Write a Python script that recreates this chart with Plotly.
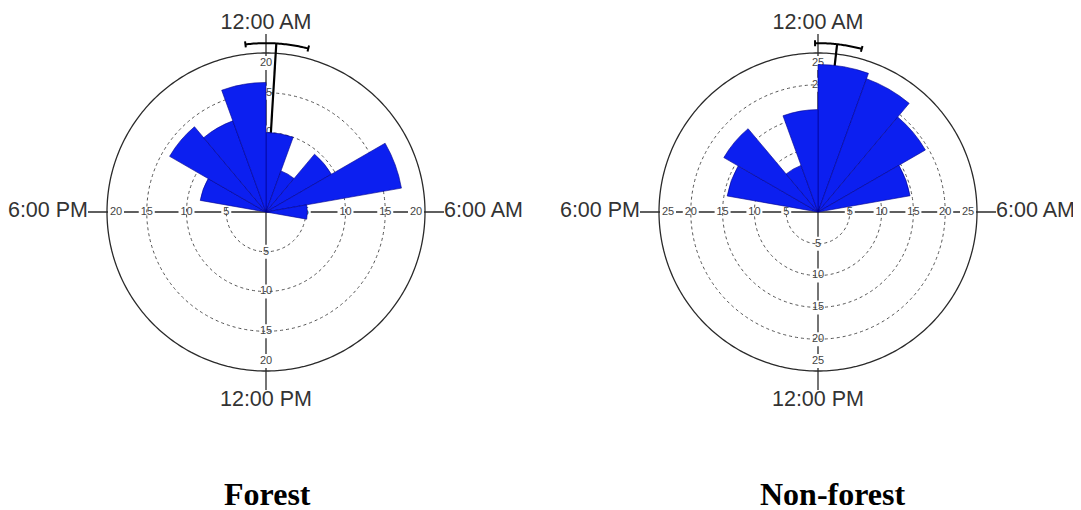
import numpy as np
import plotly.graph_objects as go

# ---------------- data ----------------
bin_width = 20  # degrees per bin (clock: 0 deg = 12:00 AM, clockwise)
forest_theta = [10, 30, 50, 70, 90, 290, 310, 330, 350]
forest_values = [10.0, 5.5, 9.5, 17.3, 5.2, 8.4, 14.0, 12.2, 16.3]
nonforest_theta = [10, 30, 50, 70, 290, 310, 330, 350]
nonforest_values = [23.2, 22.3, 19.5, 14.7, 14.5, 17.1, 7.8, 16.1]

forest_mean = 3.5
forest_ci = [-7.0, 14.5]
nonforest_mean = 6.5
nonforest_ci = [-1.0, 15.0]

forest_ticks = [5, 10, 15, 20]
nonforest_ticks = [5, 10, 15, 20, 25]

hour_angles = [0, 90, 180, 270]
hour_labels = ["12:00 AM", "6:00 AM", "12:00 PM", "6:00 PM"]
hour_textpos = ["top center", "middle right", "bottom center", "middle left"]
panel_titles = ["Forest", "Non-forest"]

# ---------------- layout geometry (figure px) ----------------
W, H = 1081, 510
OFF = 8            # page body margin
R = 159            # radius of the outer circle in px
R_EXT = 200        # radius of the whole polar area in px
centers = [(266 - OFF, 212 - OFF), (818 - OFF, 212 - OFF)]
title_x = [267 - OFF, 833 - OFF]
title_y = 494 - OFF
BAR_COLOR = "#0c1ff0"
LABEL_FONT = "Liberation Sans, Arial, sans-serif"
INK = "#2a2a2a"


def domain(cx, cy):
    return dict(x=[(cx - R_EXT) / W, (cx + R_EXT) / W],
                y=[(H - cy - R_EXT) / H, (H - cy + R_EXT) / H])


fig = go.Figure()


def add_panel(idx, theta, values, ticks, mean, ci):
    under = "polar" if idx == 0 else f"polar{2 * idx + 1}"
    over = f"polar{2 * idx + 2}"
    outer = ticks[-1]
    scale = R / outer            # px per unit
    rmax = R_EXT / scale         # radial range maximum

    # outer circle
    circ_t = list(np.linspace(0, 360, 361))
    fig.add_trace(go.Scatterpolar(r=[outer] * len(circ_t), theta=circ_t, mode="lines",
                                  subplot=under, line=dict(color=INK, width=1.3),
                                  hoverinfo="skip", showlegend=False))

    # cross axis lines, broken at the tick labels
    for ang in hour_angles:
        vertical = ang in (0, 180)
        inset = (10.0 if vertical else 9.0) / scale
        lab_r = [float(t) for t in ticks[:-1]] + [outer - inset]
        rr, tt = [], []
        start = 0.0
        for t, rl in zip(ticks, lab_r):
            gap = (7.0 if vertical else (5.0 if t < 10 else 8.0)) / scale
            rr += [start, rl - gap, None]
            tt += [ang, ang, None]
            start = rl + gap
        if start < outer:
            rr += [start, outer, None]
            tt += [ang, ang, None]
        # hour tick outside the circle
        rr += [outer, outer + 19.0 / scale]
        tt += [ang, ang]
        fig.add_trace(go.Scatterpolar(r=rr, theta=tt, mode="lines", subplot=under,
                                      line=dict(color=INK, width=1.3),
                                      hoverinfo="skip", showlegend=False))
        fig.add_trace(go.Scatterpolar(r=lab_r, theta=[ang] * len(ticks), mode="text",
                                      text=[str(t) for t in ticks], subplot=under,
                                      textfont=dict(family=LABEL_FONT, size=11, color="#444"),
                                      hoverinfo="skip", showlegend=False))

    # hour labels
    fig.add_trace(go.Scatterpolar(r=[outer + 19.0 / scale] * 4, theta=hour_angles,
                                  mode="text", text=hour_labels, textposition=hour_textpos,
                                  subplot=under, cliponaxis=False,
                                  textfont=dict(family=LABEL_FONT, size=21.5, color="#333"),
                                  hoverinfo="skip", showlegend=False))

    # mean vector and 95% confidence arc
    r_arc = outer * 1.062
    fig.add_trace(go.Scatterpolar(r=[0, r_arc], theta=[mean, mean], mode="lines",
                                  subplot=under, line=dict(color="black", width=2.2),
                                  hoverinfo="skip", showlegend=False))
    arc_t = list(np.linspace(ci[0], ci[1], 40))
    tick_in = r_arc - 3.0 / scale
    tick_out = r_arc + 3.0 / scale
    fig.add_trace(go.Scatterpolar(
        r=[tick_in, tick_out, None] + [r_arc] * len(arc_t) + [None, tick_in, tick_out],
        theta=[ci[0], ci[0], None] + arc_t + [None, ci[1], ci[1]],
        mode="lines", subplot=under,
        line=dict(color="black", width=2), hoverinfo="skip", showlegend=False))

    # rose bars (in the overlay subplot so they sit on top)
    fig.add_trace(go.Barpolar(r=values, theta=theta, width=[bin_width] * len(theta),
                              subplot=over,
                              marker=dict(color=BAR_COLOR,
                                          line=dict(color="#00008c", width=0.6)),
                              showlegend=False))

    cx, cy = centers[idx]
    dom = domain(cx, cy)
    under_layout = dict(
        domain=dom, bgcolor="rgba(0,0,0,0)", hole=0,
        angularaxis=dict(direction="clockwise", rotation=90, showline=False,
                         showgrid=False, ticks="", showticklabels=False),
        radialaxis=dict(range=[0, rmax], tickmode="array", tickvals=ticks[:-1],
                        showgrid=True, gridcolor="#555", griddash="3px,3px", gridwidth=1,
                        showticklabels=False, ticks="", showline=False),
    )
    over_layout = dict(
        domain=dom, bgcolor="rgba(0,0,0,0)", hole=0,
        angularaxis=dict(direction="clockwise", rotation=90, visible=False),
        radialaxis=dict(range=[0, rmax], visible=False),
    )
    fig.update_layout(**{under: under_layout, over: over_layout})
    fig.add_annotation(text=f"<b>{panel_titles[idx]}</b>", x=title_x[idx] / W,
                       y=(H - title_y) / H, xref="paper", yref="paper",
                       xanchor="center", yanchor="middle", showarrow=False,
                       font=dict(family="Liberation Serif, Times New Roman, serif",
                                 size=32, color="black"))


add_panel(0, forest_theta, forest_values, forest_ticks, forest_mean, forest_ci)
add_panel(1, nonforest_theta, nonforest_values, nonforest_ticks, nonforest_mean, nonforest_ci)

fig.update_layout(width=W, height=H, margin=dict(l=0, r=0, t=0, b=0),
                  paper_bgcolor="white", plot_bgcolor="white", showlegend=False)

fig.write_html("out.html")
